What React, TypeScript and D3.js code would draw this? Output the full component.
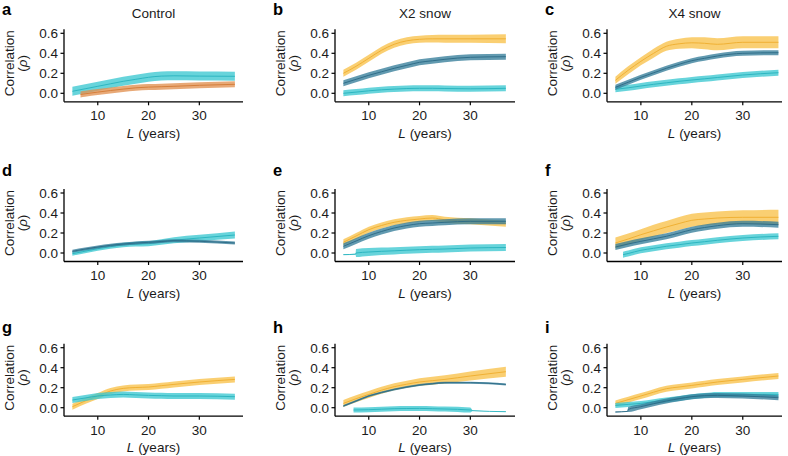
import React from "react";
import * as d3 from "d3";

// ---------- data ----------
const L_GRID = [5, 7.5, 10, 12.5, 15, 17.5, 20, 22.5, 25, 30, 37];
const X_TICKS = [10, 20, 30];
const Y_TICKS = [0, 0.2, 0.4, 0.6];
const Y_TICK_LABELS = ["0.0", "0.2", "0.4", "0.6"];
const PANEL_LETTERS = ["a", "b", "c", "d", "e", "f", "g", "h", "i"];
const COLUMN_TITLES = ["Control", "X2 snow", "X4 snow"];

// panel a (Control)
const A_CYAN_MEAN = [0.02, 0.045, 0.07, 0.095, 0.12, 0.14, 0.16, 0.172, 0.175, 0.172, 0.17];
const A_CYAN_HALF = [0.045, 0.045, 0.045, 0.045, 0.045, 0.045, 0.045, 0.045, 0.045, 0.045, 0.045];
const A_ORANGE_L = [6.6, 7.5, 10, 12.5, 15, 17.5, 20, 22.5, 25, 30, 37];
const A_ORANGE_MEAN = [-0.012, -0.005, 0.012, 0.028, 0.042, 0.055, 0.062, 0.066, 0.07, 0.08, 0.09];
const A_ORANGE_HALF = [0.03, 0.03, 0.03, 0.03, 0.03, 0.03, 0.03, 0.03, 0.03, 0.03, 0.03];

// panel b (X2 snow)
const B_YELLOW_MEAN = [0.2, 0.27, 0.35, 0.43, 0.49, 0.525, 0.54, 0.545, 0.545, 0.545, 0.545];
const B_YELLOW_HALF = [0.035, 0.035, 0.035, 0.035, 0.035, 0.035, 0.035, 0.038, 0.04, 0.04, 0.045];
const B_TEAL_MEAN = [0.1, 0.14, 0.18, 0.215, 0.25, 0.28, 0.31, 0.325, 0.34, 0.36, 0.366];
const B_TEAL_HALF = [0.03, 0.03, 0.03, 0.03, 0.03, 0.03, 0.03, 0.03, 0.03, 0.03, 0.03];
const B_CYAN_MEAN = [0.0, 0.012, 0.025, 0.035, 0.042, 0.048, 0.05, 0.05, 0.048, 0.045, 0.05];
const B_CYAN_HALF = [0.03, 0.03, 0.03, 0.03, 0.03, 0.03, 0.03, 0.03, 0.03, 0.03, 0.03];

// panel c (X4 snow)
const C_YELLOW_MEAN = [0.13, 0.23, 0.32, 0.4, 0.47, 0.495, 0.505, 0.5, 0.49, 0.51, 0.51];
const C_YELLOW_HALF = [0.035, 0.04, 0.04, 0.045, 0.045, 0.05, 0.055, 0.06, 0.06, 0.06, 0.06];
const C_TEAL_MEAN = [0.06, 0.11, 0.16, 0.205, 0.25, 0.29, 0.326, 0.35, 0.373, 0.4, 0.406];
const C_TEAL_HALF = [0.025, 0.025, 0.025, 0.025, 0.025, 0.025, 0.025, 0.025, 0.025, 0.025, 0.025];
const C_CYAN_MEAN = [0.04, 0.055, 0.073, 0.09, 0.105, 0.12, 0.133, 0.145, 0.158, 0.183, 0.206];
const C_CYAN_HALF = [0.03, 0.03, 0.03, 0.03, 0.03, 0.03, 0.03, 0.03, 0.03, 0.03, 0.03];

// panel d
const D_CYAN_MEAN = [-0.007, 0.018, 0.043, 0.063, 0.08, 0.088, 0.093, 0.11, 0.127, 0.15, 0.18];
const D_CYAN_HALF = [0.02, 0.02, 0.02, 0.02, 0.022, 0.024, 0.025, 0.027, 0.03, 0.032, 0.035];
const D_TEAL_MEAN = [0.017, 0.04, 0.06, 0.077, 0.09, 0.1, 0.107, 0.115, 0.123, 0.117, 0.1];
const D_TEAL_HALF = [0.015, 0.015, 0.015, 0.015, 0.015, 0.015, 0.015, 0.015, 0.015, 0.015, 0.015];

// panel e
const E_YELLOW_MEAN = [0.107, 0.17, 0.233, 0.275, 0.307, 0.327, 0.34, 0.35, 0.333, 0.317, 0.293];
const E_YELLOW_HALF = [0.03, 0.03, 0.03, 0.03, 0.03, 0.03, 0.03, 0.03, 0.03, 0.03, 0.03];
const E_TEAL_MEAN = [0.067, 0.12, 0.173, 0.215, 0.25, 0.275, 0.293, 0.3, 0.307, 0.317, 0.317];
const E_TEAL_HALF = [0.03, 0.03, 0.03, 0.03, 0.03, 0.03, 0.03, 0.03, 0.03, 0.03, 0.03];
const E_CYAN_L = [5, 7.4, 7.5, 10, 12.5, 15, 17.5, 20, 22.5, 25, 30, 37];
const E_CYAN_MEAN = [-0.017, -0.012, 0.0, 0.01, 0.017, 0.022, 0.028, 0.033, 0.037, 0.04, 0.05, 0.055];
const E_CYAN_HALF = [0.004, 0.004, 0.04, 0.04, 0.038, 0.036, 0.035, 0.035, 0.035, 0.035, 0.035, 0.035];

// panel f
const F_YELLOW_MEAN = [0.1, 0.14, 0.183, 0.222, 0.26, 0.295, 0.327, 0.34, 0.35, 0.357, 0.357];
const F_YELLOW_HALF = [0.055, 0.055, 0.055, 0.06, 0.06, 0.065, 0.065, 0.065, 0.065, 0.07, 0.075];
const F_TEAL_MEAN = [0.06, 0.09, 0.117, 0.142, 0.167, 0.2, 0.233, 0.255, 0.273, 0.293, 0.283];
const F_TEAL_HALF = [0.03, 0.03, 0.03, 0.03, 0.03, 0.03, 0.03, 0.03, 0.03, 0.03, 0.03];
const F_CYAN_L = [6.5, 7.5, 10, 12.5, 15, 17.5, 20, 22.5, 25, 30, 37];
const F_CYAN_MEAN = [-0.017, -0.005, 0.027, 0.047, 0.067, 0.083, 0.1, 0.113, 0.127, 0.15, 0.167];
const F_CYAN_HALF = [0.03, 0.03, 0.03, 0.03, 0.03, 0.03, 0.03, 0.03, 0.03, 0.03, 0.03];

// panel g
const G_YELLOW_MEAN = [0.01, 0.067, 0.117, 0.167, 0.193, 0.202, 0.207, 0.22, 0.233, 0.257, 0.283];
const G_YELLOW_HALF = [0.03, 0.03, 0.03, 0.03, 0.03, 0.03, 0.03, 0.03, 0.03, 0.03, 0.03];
const G_CYAN_MEAN = [0.077, 0.097, 0.117, 0.127, 0.133, 0.128, 0.123, 0.12, 0.117, 0.117, 0.11];
const G_CYAN_HALF = [0.03, 0.03, 0.03, 0.03, 0.03, 0.03, 0.03, 0.03, 0.03, 0.03, 0.03];

// panel h
const H_YELLOW_MEAN = [0.043, 0.09, 0.133, 0.175, 0.21, 0.235, 0.257, 0.27, 0.283, 0.317, 0.36];
const H_YELLOW_HALF = [0.035, 0.035, 0.035, 0.035, 0.035, 0.035, 0.037, 0.04, 0.042, 0.045, 0.05];
const H_TEAL_MEAN = [0.017, 0.067, 0.117, 0.152, 0.183, 0.207, 0.227, 0.24, 0.25, 0.25, 0.233];
const H_TEAL_HALF = [0.01, 0.01, 0.01, 0.01, 0.01, 0.01, 0.01, 0.01, 0.01, 0.01, 0.01];
const H_CYAN_L = [7, 10, 12.5, 15, 17.5, 20, 22.5, 25, 30, 30.5, 37];
const H_CYAN_MEAN = [-0.023, -0.02, -0.015, -0.01, -0.008, -0.007, -0.01, -0.013, -0.023, -0.03, -0.04];
const H_CYAN_HALF = [0.025, 0.025, 0.025, 0.025, 0.025, 0.025, 0.025, 0.025, 0.025, 0.003, 0.003];

// panel i
const I_YELLOW_MEAN = [0.043, 0.08, 0.117, 0.155, 0.19, 0.207, 0.223, 0.24, 0.257, 0.283, 0.317];
const I_YELLOW_HALF = [0.03, 0.03, 0.03, 0.03, 0.03, 0.03, 0.03, 0.03, 0.03, 0.03, 0.03];
const I_CYAN_MEAN = [0.023, 0.033, 0.043, 0.06, 0.077, 0.093, 0.11, 0.122, 0.133, 0.133, 0.133];
const I_CYAN_HALF = [0.025, 0.025, 0.025, 0.025, 0.025, 0.025, 0.025, 0.025, 0.025, 0.025, 0.025];
const I_TEAL_L = [5, 7.4, 7.5, 10, 12.5, 15, 17.5, 20, 22.5, 25, 30, 37];
const I_TEAL_MEAN = [-0.043, -0.037, -0.017, 0.01, 0.04, 0.067, 0.09, 0.11, 0.12, 0.123, 0.117, 0.1];
const I_TEAL_HALF = [0.004, 0.004, 0.025, 0.025, 0.025, 0.025, 0.025, 0.025, 0.025, 0.025, 0.025, 0.025];

// ---------- styling ----------
const COLORS: Record<string, { fill: string; line: string }> = {
  yellow: { fill: "#F8C24A", line: "#EEAD2E" },
  cyan: { fill: "#3CC8D1", line: "#27B3BE" },
  teal: { fill: "#367E9A", line: "#2A6985" },
  orange: { fill: "#E29151", line: "#D27A35" },
};

type Series = { color: string; L: number[]; mean: number[]; half: number[] };
const S = (color: string, mean: number[], half: number[], L: number[] = L_GRID): Series => ({ color, L, mean, half });

const PANEL_SERIES: Series[][] = [
  [S("cyan", A_CYAN_MEAN, A_CYAN_HALF), S("orange", A_ORANGE_MEAN, A_ORANGE_HALF, A_ORANGE_L)],
  [S("yellow", B_YELLOW_MEAN, B_YELLOW_HALF), S("cyan", B_CYAN_MEAN, B_CYAN_HALF), S("teal", B_TEAL_MEAN, B_TEAL_HALF)],
  [S("yellow", C_YELLOW_MEAN, C_YELLOW_HALF), S("cyan", C_CYAN_MEAN, C_CYAN_HALF), S("teal", C_TEAL_MEAN, C_TEAL_HALF)],
  [S("cyan", D_CYAN_MEAN, D_CYAN_HALF), S("teal", D_TEAL_MEAN, D_TEAL_HALF)],
  [S("yellow", E_YELLOW_MEAN, E_YELLOW_HALF), S("cyan", E_CYAN_MEAN, E_CYAN_HALF, E_CYAN_L), S("teal", E_TEAL_MEAN, E_TEAL_HALF)],
  [S("yellow", F_YELLOW_MEAN, F_YELLOW_HALF), S("cyan", F_CYAN_MEAN, F_CYAN_HALF, F_CYAN_L), S("teal", F_TEAL_MEAN, F_TEAL_HALF)],
  [S("yellow", G_YELLOW_MEAN, G_YELLOW_HALF), S("cyan", G_CYAN_MEAN, G_CYAN_HALF)],
  [S("yellow", H_YELLOW_MEAN, H_YELLOW_HALF), S("cyan", H_CYAN_MEAN, H_CYAN_HALF, H_CYAN_L), S("teal", H_TEAL_MEAN, H_TEAL_HALF)],
  [S("yellow", I_YELLOW_MEAN, I_YELLOW_HALF), S("cyan", I_CYAN_MEAN, I_CYAN_HALF), S("teal", I_TEAL_MEAN, I_TEAL_HALF, I_TEAL_L)],
];

// layout
const COL_LEFT = [64, 335, 607];
const COL_RIGHT = [243, 515, 782];
const COL_XMAX = [38.6, 38.8, 37.7];
const X_MIN = 3.35;
const ROW_ZERO = [93.3, 253, 407.7];
const ROW_LETTER_Y = [15, 176, 333];
const Y_DOMAIN: [number, number] = [-0.085, 0.64];
const FONT = "'Liberation Sans', Arial, Helvetica, sans-serif";
const TEXT = "#1b1b1b";

function Panel({ idx }: { idx: number }) {
  const col = idx % 3;
  const row = Math.floor(idx / 3);
  const left = COL_LEFT[col];
  const right = COL_RIGHT[col];
  const y0 = ROW_ZERO[row];
  const x = d3.scaleLinear().domain([X_MIN, COL_XMAX[col]]).range([left, right]);
  const y = d3.scaleLinear().domain(Y_DOMAIN).range([y0 - Y_DOMAIN[0] * 100, y0 - Y_DOMAIN[1] * 100]);
  const bottom = y(Y_DOMAIN[0]);
  const top = y(Y_DOMAIN[1]);
  const mid = (left + right) / 2;

  type P = { L: number; m: number; h: number };
  const area = d3
    .area<P>()
    .x((d) => x(d.L))
    .y0((d) => y(d.m - d.h))
    .y1((d) => y(d.m + d.h))
    .curve(d3.curveMonotoneX);
  const line = d3
    .line<P>()
    .x((d) => x(d.L))
    .y((d) => y(d.m))
    .curve(d3.curveMonotoneX);

  return (
    <g>
      <text x={left - 62} y={ROW_LETTER_Y[row]} fontFamily={FONT} fontWeight="bold" fontSize={16.5} fill="#000">
        {PANEL_LETTERS[idx]}
      </text>
      {row === 0 && (
        <text x={mid} y={18} textAnchor="middle" fontFamily={FONT} fontSize={13.5} fill={TEXT}>
          {COLUMN_TITLES[col]}
        </text>
      )}
      {PANEL_SERIES[idx].map((s, k) => {
        const pts: P[] = s.L.map((L, i) => ({ L, m: s.mean[i], h: s.half[i] }));
        const c = COLORS[s.color];
        return (
          <g key={k}>
            <path d={area(pts) || ""} fill={c.fill} fillOpacity={0.78} stroke="none" />
            <path d={line(pts) || ""} fill="none" stroke={c.line} strokeWidth={1} strokeOpacity={0.9} />
          </g>
        );
      })}
      {/* axes */}
      <line x1={left} x2={left} y1={top} y2={bottom} stroke="#000" strokeWidth={1.3} />
      <line x1={left} x2={right} y1={bottom} y2={bottom} stroke="#000" strokeWidth={1.3} />
      {Y_TICKS.map((t, i) => (
        <g key={"y" + t}>
          <line x1={left - 3.5} x2={left} y1={y(t)} y2={y(t)} stroke="#000" strokeWidth={1.2} />
          <text x={left - 6} y={y(t) + 4.8} textAnchor="end" fontFamily={FONT} fontSize={13.5} fill={TEXT}>
            {Y_TICK_LABELS[i]}
          </text>
        </g>
      ))}
      {X_TICKS.map((t) => (
        <g key={"x" + t}>
          <line x1={x(t)} x2={x(t)} y1={bottom} y2={bottom + 3.5} stroke="#000" strokeWidth={1.2} />
          <text x={x(t)} y={bottom + 18.5} textAnchor="middle" fontFamily={FONT} fontSize={13.5} fill={TEXT}>
            {t}
          </text>
        </g>
      ))}
      <text x={mid} y={bottom + 36} textAnchor="middle" fontFamily={FONT} fontSize={13.5} fill={TEXT}>
        <tspan fontStyle="italic">L</tspan> (years)
      </text>
      <text
        transform={`translate(${left - 50},${y0 - 30}) rotate(-90)`}
        textAnchor="middle"
        fontFamily={FONT}
        fontSize={13.5}
        fill={TEXT}
      >
        Correlation
      </text>
      <text
        transform={`translate(${left - 37},${y0 - 30}) rotate(-90)`}
        textAnchor="middle"
        fontFamily={FONT}
        fontSize={13.5}
        fill={TEXT}
      >
        (<tspan fontStyle="italic">ρ</tspan>)
      </text>
    </g>
  );
}

export default function App() {
  return (
    <svg
      width={788}
      height={456}
      viewBox="0 0 788 456"
      style={{ position: "absolute", left: 0, top: 0, display: "block", background: "#fff" }}
    >
      <rect width={788} height={456} fill="#fff" />
      {PANEL_LETTERS.map((_, i) => (
        <Panel key={i} idx={i} />
      ))}
    </svg>
  );
}
